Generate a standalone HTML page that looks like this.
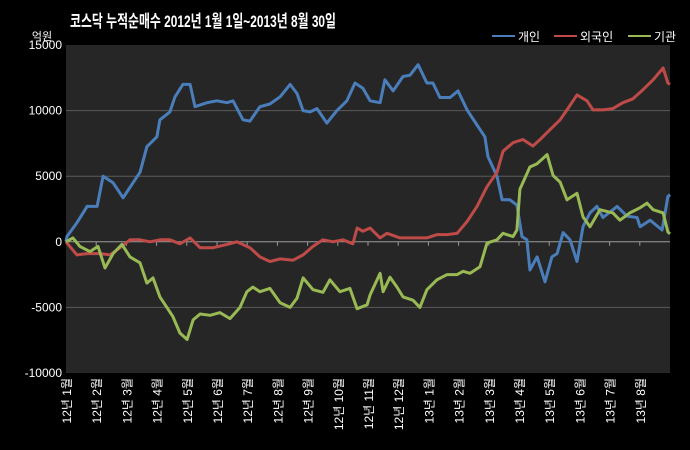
<!DOCTYPE html>
<html><head><meta charset="utf-8"><style>
body{margin:0;background:#000;}
svg{display:block;font-family:"Liberation Sans","Noto Sans CJK KR",sans-serif;}
</style></head><body>
<svg id="c" width="690" height="450" viewBox="0 0 690 450">
<rect width="690" height="450" fill="#000"/>
<text x="70" y="27" fill="#fff" font-size="17" font-weight="bold" textLength="266" lengthAdjust="spacingAndGlyphs">코스닥  누적순매수 2012년 1월 1일~2013년 8월 30일</text>
<rect x="66" y="45" width="604" height="328" fill="#262626"/>
<text x="42" y="40" fill="#fff" font-size="11" text-anchor="middle">억원</text>
<g id="grid"></g><g id="ylab"></g><g id="xlab"></g><g id="lines"></g>
<g>
<g><line x1="492" y1="36" x2="515" y2="36" stroke="#4a7ebb" stroke-width="2"/><text x="518" y="41" fill="#fff" font-size="12">개인</text></g>
<g><line x1="554" y1="36" x2="577" y2="36" stroke="#be4b48" stroke-width="2"/><text x="580" y="41" fill="#fff" font-size="12">외국인</text></g>
<g><line x1="628" y1="36" x2="651" y2="36" stroke="#98b954" stroke-width="2"/><text x="654" y="41" fill="#fff" font-size="12">기관</text></g>
</g>
</svg>
<script>
const monthLabels=["12년 1월","12년 2월","12년 3월","12년 4월","12년 5월","12년 6월","12년 7월","12년 8월","12년 9월","12년 10월","12년 11월","12년 12월","13년 1월","13년 2월","13년 3월","13년 4월","13년 5월","13년 6월","13년 7월","13년 8월"];
const yTicks=[15000,10000,5000,0,-5000,-10000];
const indT=[0,0.03,0.36,0.70,1.03,1.23,1.56,1.89,2.22,2.45,2.68,3.01,3.11,3.44,3.61,3.87,4.11,4.27,4.67,5.0,5.33,5.53,5.86,6.09,6.42,6.75,7.09,7.42,7.65,7.85,8.08,8.31,8.64,8.97,9.30,9.57,9.83,10.07,10.40,10.56,10.83,11.16,11.39,11.66,11.95,12.15,12.38,12.72,12.98,13.28,13.61,13.87,13.97,14.27,14.44,14.70,14.93,15.10,15.26,15.36,15.60,15.86,16.09,16.26,16.46,16.69,16.92,17.12,17.35,17.58,17.78,18.25,18.58,18.91,19.01,19.34,19.74,19.93,20.0];
const indV=[0,400,1450,2700,2700,5000,4500,3350,4500,5300,7250,8000,9300,9900,11050,12000,12000,10300,10600,10750,10600,10750,9300,9200,10300,10500,11050,12000,11300,10000,9900,10150,9050,10000,10750,12100,11700,10750,10600,12350,11500,12600,12700,13500,12100,12100,11000,11000,11500,10050,8900,8000,6500,5000,3200,3200,2800,400,150,-2150,-1150,-3050,-1150,-900,700,150,-1500,1150,2200,2700,1850,2700,1950,1850,1150,1650,900,3450,3600];
const forT=[0,0.36,0.70,1.13,1.46,1.79,2.12,2.45,2.78,3.11,3.44,3.77,4.11,4.44,4.87,5.33,5.66,6.09,6.42,6.75,7.09,7.52,7.85,8.18,8.51,8.84,9.17,9.50,9.64,9.83,10.07,10.40,10.63,11.06,11.49,11.95,12.28,12.62,12.95,13.28,13.61,13.94,14.27,14.47,14.80,15.13,15.46,15.70,16.03,16.36,16.59,16.92,17.25,17.45,17.78,18.11,18.44,18.77,19.11,19.44,19.77,19.93,20];
const forV=[0,-1000,-900,-900,-1000,-450,150,150,0,150,150,-150,300,-450,-450,-200,0,-450,-1150,-1500,-1300,-1400,-1000,-350,150,0,150,-150,1050,800,1050,300,650,300,300,300,550,550,650,1550,2700,4200,5300,6900,7550,7800,7300,7800,8550,9300,10050,11200,10750,10050,10050,10150,10600,10900,11600,12350,13250,12100,12000];
const insT=[0,0.23,0.46,0.79,1.06,1.29,1.56,1.85,2.12,2.45,2.68,2.88,3.11,3.34,3.54,3.77,4.01,4.21,4.44,4.77,5.10,5.43,5.76,5.99,6.19,6.42,6.75,7.09,7.42,7.65,7.85,8.18,8.51,8.74,9.07,9.40,9.64,9.97,10.07,10.40,10.50,10.73,10.96,11.16,11.49,11.72,11.95,12.28,12.62,12.95,13.15,13.38,13.71,13.94,14.27,14.47,14.80,14.93,15.03,15.36,15.60,15.93,16.13,16.36,16.59,16.92,17.12,17.35,17.68,18.11,18.34,18.67,19.01,19.24,19.44,19.77,19.93,20];
const insV=[0,300,-350,-750,-350,-2000,-900,-200,-1150,-1600,-3150,-2750,-4200,-5000,-5700,-6950,-7450,-5950,-5500,-5600,-5400,-5850,-5000,-3800,-3450,-3800,-3550,-4650,-5000,-4300,-2750,-3650,-3850,-2900,-3800,-3550,-5100,-4800,-4050,-2400,-3800,-2700,-3450,-4200,-4450,-5000,-3650,-2900,-2500,-2500,-2250,-2400,-1900,-100,150,650,400,900,4000,5700,5950,6650,5050,4550,3200,3700,1900,1150,2450,2200,1650,2200,2600,2950,2450,2200,750,600];

const X0=66,X1=670,Y0=45,Y1=373,VMAX=15000,VMIN=-10000,NM=20;
const xs=m=>X0+(X1-X0)*m/NM;
const ys=v=>Y0+(Y1-Y0)*(VMAX-v)/(VMAX-VMIN);
const NS="http://www.w3.org/2000/svg";
function mk(tag,attrs,parent){const e=document.createElementNS(NS,tag);for(const k in attrs)e.setAttribute(k,attrs[k]);parent.appendChild(e);return e;}
const grid=document.getElementById('grid'),ylab=document.getElementById('ylab'),xlab=document.getElementById('xlab'),lines=document.getElementById('lines');
yTicks.forEach(v=>{
  if(v!==VMAX&&v!==VMIN){const g=mk('line',{x1:X0,x2:X1,y1:ys(v),y2:ys(v),stroke:v===0?'#9a9a9a':'#5a5a5a','stroke-width':1},grid);
  
  }
  const t=mk('text',{x:62,y:ys(v)+4,fill:'#fff','font-size':12,'text-anchor':'end'},ylab);
  t.textContent=v;
  
  
});
monthLabels.forEach((lab,i)=>{
  const x=xs(i);
  if(i>0){const tk=mk('line',{x1:x,x2:x,y1:ys(0),y2:ys(0)+4,stroke:'#9a9a9a','stroke-width':1},grid);
  
  }
  const t=mk('text',{transform:`translate(${x+5},378) rotate(-90)`,fill:'#fff','font-size':12,'text-anchor':'end'},xlab);
  t.textContent=lab;
  
  
});
function series(T,V,color,name){
  const d=T.map((m,i)=>(i?'L':'M')+xs(m).toFixed(1)+','+ys(V[i]).toFixed(1)).join('');
  const p=mk('path',{d:d,fill:'none',stroke:color,'stroke-width':3,'stroke-linejoin':'round'},lines);
  
  
}
series(indT,indV,'#4a7ebb','line-individual');
series(forT,forV,'#be4b48','line-foreign');
series(insT,insV,'#98b954','line-institution');
</script>
</body></html>
